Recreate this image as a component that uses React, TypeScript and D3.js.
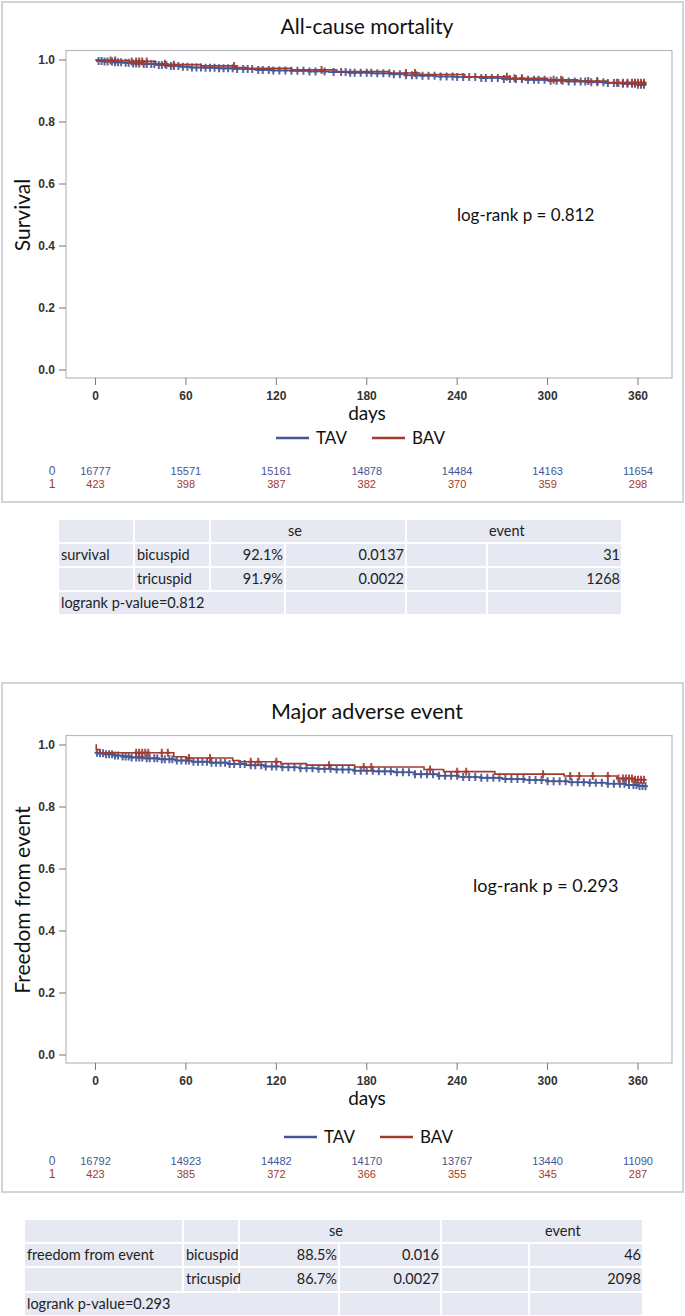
import React from "react";
import * as d3 from "d3";

// ---------- data ----------
const DAY_TICKS = [0, 60, 120, 180, 240, 300, 360];
const Y_TICKS = [0, 0.2, 0.4, 0.6, 0.8, 1.0];
const SERIES = ["TAV", "BAV"];
const COLORS = ["#445694", "#A23A2E"];

// All-cause mortality
const TAV_SURV_1: [number, number][] = [[0,1.0],[1,0.997],[6,0.995],[12,0.993],[18,0.991],[25,0.989],[32,0.987],[40,0.984],[48,0.981],[56,0.978],[63,0.976],[72,0.975],[82,0.973],[94,0.971],[106,0.968],[118,0.966],[130,0.965],[142,0.963],[155,0.961],[168,0.959],[184,0.957],[196,0.954],[206,0.951],[214,0.949],[226,0.947],[240,0.945],[256,0.942],[270,0.939],[285,0.936],[300,0.933],[312,0.931],[326,0.928],[338,0.926],[350,0.923],[360,0.920],[365,0.919]];
const BAV_SURV_1: [number, number][] = [[0,1.0],[8,0.998],[22,0.995],[40,0.988],[48,0.985],[70,0.981],[93,0.976],[100,0.973],[130,0.968],[160,0.963],[195,0.958],[215,0.953],[245,0.946],[275,0.941],[300,0.936],[320,0.932],[340,0.927],[365,0.921]];
const TAV_CENS_1 = [2,4,6,8,11,13,15,17,20,22,25,27,29,32,34,37,39,42,44,47,50,52,55,58,61,64,67,70,73,76,79,82,85,88,91,94,98,101,104,108,111,115,118,122,126,130,134,138,142,146,152,158,163,166,169,172,176,180,183,187,191,195,198,202,206,210,213,217,221,225,229,233,237,240,244,248,252,256,259,263,267,271,275,279,283,287,291,294,298,302,306,310,314,318,322,325,329,333,337,340,344,347,350,353,356,358,360,362,364];
const BAV_CENS_1 = [10,13,24,27,29,31,34,46,52,92,150,206,212,273,278,283,304,309,327,333,346,350,353,356,358,360,362,364];
const AT_RISK_1 = [[16777,15571,15161,14878,14484,14163,11654],[423,398,387,382,370,359,298]];
const P_TEXT_1 = "log-rank p = 0.812";

// Major adverse event
const TAV_SURV_2: [number, number][] = [[0,0.975],[2,0.973],[6,0.970],[12,0.966],[18,0.963],[24,0.960],[32,0.957],[42,0.954],[53,0.950],[64,0.946],[76,0.943],[88,0.939],[100,0.935],[112,0.931],[123,0.928],[135,0.925],[147,0.923],[158,0.921],[172,0.917],[185,0.915],[198,0.912],[212,0.906],[227,0.901],[241,0.897],[256,0.894],[270,0.890],[285,0.887],[300,0.883],[314,0.880],[327,0.878],[340,0.875],[352,0.871],[360,0.868],[365,0.867]];
const BAV_SURV_2: [number, number][] = [[0,1.0],[0.5,0.985],[3,0.975],[52,0.962],[60,0.958],[91,0.950],[95,0.946],[123,0.940],[140,0.935],[172,0.929],[218,0.921],[231,0.914],[265,0.906],[311,0.900],[346,0.892],[358,0.888],[365,0.885]];
const TAV_CENS_2 = [1,3,5,7,9,11,13,15,18,20,22,24,27,29,31,34,36,39,41,44,46,49,51,54,57,60,62,65,68,71,74,77,80,83,86,89,92,96,99,103,106,110,113,117,120,124,128,132,136,140,144,148,152,156,160,164,168,172,176,180,184,188,192,196,200,204,208,212,216,220,224,228,232,236,240,244,248,252,256,260,264,268,272,276,280,284,288,292,296,300,304,308,312,316,320,324,328,332,336,340,344,348,351,354,357,359,361,363,365];
const BAV_CENS_2 = [27,29,31,33,35,44,48,62,76,103,108,120,155,178,183,222,240,246,297,315,321,330,340,347,350,352,354,356,358,360,362,364];
const AT_RISK_2 = [[16792,14923,14482,14170,13767,13440,11090],[423,385,372,366,355,345,287]];
const P_TEXT_2 = "log-rank p = 0.293";

// tables
const TABLE1_HEAD = ["", "", "se", "event"];
const TABLE1_ROWS = [["survival", "bicuspid", "92.1%", "0.0137", "", "31"], ["", "tricuspid", "91.9%", "0.0022", "", "1268"]];
const TABLE1_FOOT = "logrank p-value=0.812";
const TABLE2_HEAD = ["", "", "se", "event"];
const TABLE2_ROWS = [["freedom from event", "bicuspid", "88.5%", "0.016", "", "46"], ["", "tricuspid", "86.7%", "0.0027", "", "2098"]];
const TABLE2_FOOT = "logrank p-value=0.293";

const SANS = "Lato, 'Open Sans', sans-serif";
const NARROW = "'Liberation Sans Narrow', 'Arial Narrow', 'Liberation Sans', sans-serif";

function survAt(steps: [number, number][], day: number) {
  const i = d3.bisector((d: [number, number]) => d[0]).right(steps, day) - 1;
  return steps[Math.max(0, i)][1];
}

type PanelProps = {
  top: number; title: string; titleSize: number; yLabel: string; surv: [number, number][][]; cens: number[][];
  atRisk: number[][]; pText: string; pX: number; pY: number; pSize: number;
  legendX: number; legendY: number; riskY: number; borderBottom: number;
};

function Panel(p: PanelProps) {
  const x = d3.scaleLinear().domain([0, 360]).range([95.5, 638]);
  const y = d3.scaleLinear().domain([0, 1]).range([p.top + 370, p.top + 60]);
  const line = d3.line<[number, number]>().x(d => x(d[0])).y(d => y(d[1])).curve(d3.curveStepAfter);
  const frameTop = p.top + 50.5;
  const frameBottom = p.top + 378;
  const borderTop = p.top === 0 ? 2 : p.top - 2;
  return (
    <g>
      <rect x={2} y={borderTop} width={681} height={p.borderBottom - borderTop} fill="#fff" stroke="#d4d4d4" strokeWidth={2} />
      <text x={367} y={p.top + 34} textAnchor="middle" fontFamily={SANS} fontSize={p.titleSize} fill="#111">{p.title}</text>
      <rect x={66} y={frameTop} width={606} height={frameBottom - frameTop} fill="#fff" stroke="#b8bcc0" strokeWidth={1.2} />
      {Y_TICKS.map(t => (
        <g key={t}>
          <line x1={59} x2={66} y1={y(t)} y2={y(t)} stroke="#777" />
          <text x={55} y={y(t) + 4} textAnchor="end" fontFamily={NARROW} fontWeight="bold" fontSize={12} fill="#333">{t.toFixed(1)}</text>
        </g>
      ))}
      {DAY_TICKS.map(t => (
        <g key={t}>
          <line x1={x(t)} x2={x(t)} y1={frameBottom} y2={frameBottom + 7} stroke="#777" />
          <text x={x(t)} y={frameBottom + 22} textAnchor="middle" fontFamily={NARROW} fontWeight="bold" fontSize={12} fill="#333">{t}</text>
        </g>
      ))}
      <text x={367} y={p.top + 420} textAnchor="middle" fontFamily={SANS} fontSize={19} fill="#111">days</text>
      <text transform={`translate(30,${y(0.5)}) rotate(-90)`} textAnchor="middle" fontFamily={SANS} fontSize={21} fill="#111">{p.yLabel}</text>
      <text x={p.pX} y={p.pY} fontFamily={SANS} fontSize={p.pSize} fill="#111">{p.pText}</text>
      {p.surv.map((s, i) => (
        <g key={i}>
          <path d={line(s) || ""} fill="none" stroke={COLORS[i]} strokeWidth={1.6} />
          {p.cens[i].map((c, j) => {
            const cx = x(c), cy = y(survAt(s, c));
            return <path key={j} d={`M${cx - 2.5},${cy}H${cx + 2.5}M${cx},${cy - 4}V${cy + 4}`} stroke={COLORS[i]} strokeWidth={2} opacity={0.9} />;
          })}
        </g>
      ))}
      {SERIES.map((s, i) => (
        <g key={s}>
          <line x1={p.legendX + i * 96} x2={p.legendX + i * 96 + 33} y1={p.legendY} y2={p.legendY} stroke={COLORS[i]} strokeWidth={2.5} />
          <text x={p.legendX + i * 96 + 40} y={p.legendY + 6} fontFamily={SANS} fontSize={17} fill="#111">{s}</text>
        </g>
      ))}
      {p.atRisk.map((row, i) => (
        <g key={i}>
          <text x={52} y={p.riskY + i * 13} textAnchor="middle" fontFamily={NARROW} fontSize={12} fill={COLORS[i]}>{i}</text>
          {row.map((v, j) => (
            <text key={j} x={x(DAY_TICKS[j])} y={p.riskY + i * 13} textAnchor="middle" fontFamily={NARROW} fontSize={11} fill={COLORS[i]}>{v}</text>
          ))}
        </g>
      ))}
    </g>
  );
}

type TableProps = {
  cols: number[]; rows: number[]; head: string[]; headX: number[]; body: string[][]; foot: string;
};

function StatTable(t: TableProps) {
  const fill = "#e6e8f2";
  const [c0, c1, c2, c3, c4, c5, c6] = t.cols;
  const [r0, r1, r2, r3, r4] = t.rows;
  const cell = (x0: number, x1: number, y0: number, y1: number, k: string) => (
    <rect key={k} x={x0 + 1} y={y0 + 1} width={x1 - x0 - 2} height={y1 - y0 - 2} fill={fill} />
  );
  const headerCells = [[c0, c1], [c1, c2], [c2, c4], [c4, c6]];
  const bodyCells = [[c0, c1], [c1, c2], [c2, c3], [c3, c4], [c4, c5], [c5, c6]];
  const footCells = [[c0, c3], [c3, c4], [c4, c5], [c5, c6]];
  const fs = 14.5;
  return (
    <g fontFamily={SANS} fontSize={fs} fill="#222">
      {headerCells.map((c, i) => cell(c[0], c[1], r0, r1, "h" + i))}
      {[r1, r2].map((ry, ri) => bodyCells.map((c, i) => cell(c[0], c[1], ry, ry === r1 ? r2 : r3, `b${ri}${i}`)))}
      {footCells.map((c, i) => cell(c[0], c[1], r3, r4, "f" + i))}
      {t.head.map((h, i) => h ? <text key={"ht" + i} x={t.headX[i]} y={r0 + 17} fill="#222">{h}</text> : null)}
      {t.body.map((row, ri) => {
        const ry = ri === 0 ? r1 : r2;
        return row.map((v, i) => {
          if (!v) return null;
          const right = i >= 2;
          const [a, b] = bodyCells[i];
          return <text key={`t${ri}${i}`} x={right ? b - 2 : a + 3} y={ry + 17} textAnchor={right ? "end" : "start"} fill="#222">{v}</text>;
        });
      })}
      <text x={c0 + 3} y={r3 + 17} fill="#222">{t.foot}</text>
    </g>
  );
}

export default function App() {
  return (
    <svg width={685} height={1316} style={{ position: "absolute", left: 0, top: 0, background: "#fff" }}>
      <rect x={0} y={0} width={685} height={1316} fill="#fff" />
      <Panel top={0} title="All-cause mortality" titleSize={21} yLabel="Survival" surv={[TAV_SURV_1, BAV_SURV_1]} cens={[TAV_CENS_1, BAV_CENS_1]}
        atRisk={AT_RISK_1} pText={P_TEXT_1} pX={457} pY={221} pSize={17} legendX={276} legendY={438} riskY={475} borderBottom={502} />
      <Panel top={685} title="Major adverse event" titleSize={21.5} yLabel="Freedom from event" surv={[TAV_SURV_2, BAV_SURV_2]} cens={[TAV_CENS_2, BAV_CENS_2]}
        atRisk={AT_RISK_2} pText={P_TEXT_2} pX={473} pY={892} pSize={18} legendX={284} legendY={1137} riskY={1165} borderBottom={1192} />
      <StatTable cols={[58, 134, 210, 285, 406, 487, 622]} rows={[519, 543, 567, 591, 615]} head={TABLE1_HEAD} headX={[0, 0, 288, 489]} body={TABLE1_ROWS} foot={TABLE1_FOOT} />
      <StatTable cols={[24, 183, 239, 339, 441, 529, 643]} rows={[1219, 1243, 1267, 1292, 1316]} head={TABLE2_HEAD} headX={[0, 0, 329, 545]} body={TABLE2_ROWS} foot={TABLE2_FOOT} />
    </svg>
  );
}
